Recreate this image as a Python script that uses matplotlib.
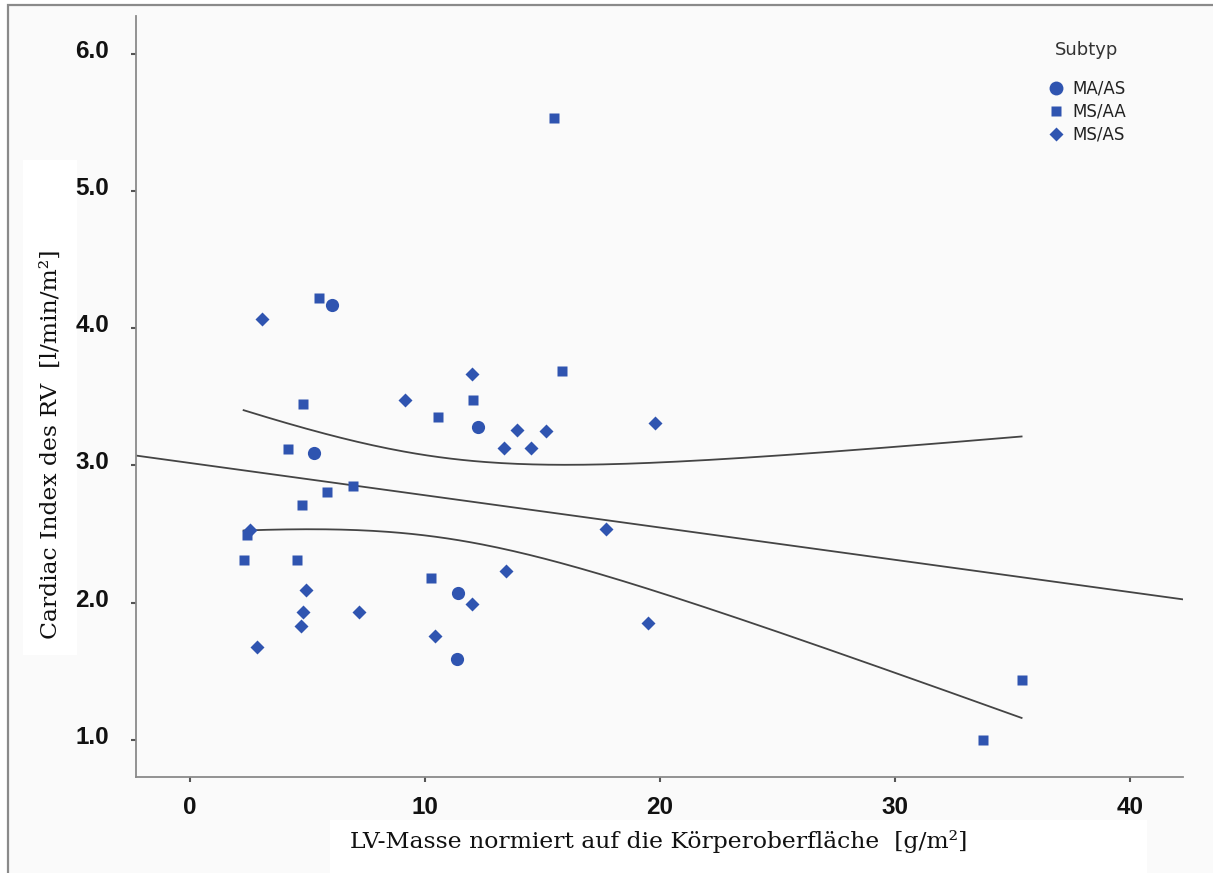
import numpy as np
import matplotlib
matplotlib.use("Agg")
import matplotlib.pyplot as plt
from matplotlib.patches import Rectangle
from matplotlib.lines import Line2D
import matplotlib.transforms as mtransforms

# Data (LV mass index vs. cardiac index RV)
ma_as_x = [6.04, 5.28, 12.26, 11.40, 11.36]
ma_as_y = [4.17, 3.09, 3.28, 2.07, 1.59]

ms_aa_x = [15.49, 5.49, 15.84, 4.80, 12.06, 10.54, 4.17, 6.92, 5.82, 4.77,
           2.44, 2.28, 4.54, 10.24, 35.39, 33.74]
ms_aa_y = [5.53, 4.22, 3.69, 3.45, 3.48, 3.35, 3.12, 2.85, 2.81, 2.71,
           2.49, 2.31, 2.31, 2.18, 1.44, 1.00]

ms_as_x = [3.06, 12.01, 9.14, 13.90, 15.13, 13.36, 14.50, 19.79, 2.55, 17.70,
           13.46, 4.94, 11.99, 4.81, 7.20, 4.74, 10.44, 2.85, 19.49]
ms_as_y = [4.07, 3.67, 3.48, 3.26, 3.25, 3.13, 3.13, 3.31, 2.53, 2.54,
           2.23, 2.09, 1.99, 1.93, 1.93, 1.83, 1.76, 1.68, 1.85]

x_ticks = [0, 10, 20, 30, 40]
y_ticks = [1.0, 2.0, 3.0, 4.0, 5.0, 6.0]

blue = "#2f54b0"
W, H = 1213, 873

fig = plt.figure(figsize=(W / 100, H / 100), dpi=100, facecolor="white")

# panel background with grey top/left frame
fig.add_artist(Rectangle((8 / W, -0.05), 1.1, 1.05 - 5 / H, transform=fig.transFigure,
                         facecolor="#fafafa", edgecolor="#8a8a8a", lw=1.6, zorder=-10))
# white boxes behind the axis titles
fig.add_artist(Rectangle((23 / W, 1 - 655 / H), 54 / W, 495 / H, transform=fig.transFigure,
                         facecolor="white", edgecolor="none", zorder=-9))
fig.add_artist(Rectangle((330 / W, -0.05), 817 / W, 0.05 + 1 - 820 / H, transform=fig.transFigure,
                         facecolor="white", edgecolor="none", zorder=-9))

ax = fig.add_axes([136 / W, 1 - 777 / H, (1183 - 136) / W, (777 - 16) / H])
ax.set_facecolor("none")

ax.plot(ma_as_x, ma_as_y, "o", color=blue, ms=9.5, mec="none", zorder=3)
ax.plot(ms_aa_x, ms_aa_y, "s", color=blue, ms=7, mec="none", zorder=3)
ax.plot(ms_as_x, ms_as_y, "D", color=blue, ms=7.2, mec="none", zorder=3)

# linear fit with 95% confidence band of the mean
all_x = np.array(ma_as_x + ms_aa_x + ms_as_x)
all_y = np.array(ma_as_y + ms_aa_y + ms_as_y)
n = len(all_x)
slope, intercept = np.polyfit(all_x, all_y, 1)
resid = all_y - (intercept + slope * all_x)
s = np.sqrt(np.sum(resid ** 2) / (n - 2))
xbar = all_x.mean()
sxx = np.sum((all_x - xbar) ** 2)
t = 2.024

xlim = (-2.30, 42.26)
xl = np.array(xlim)
ax.plot(xl, intercept + slope * xl, color="#444444", lw=1.3, zorder=2)
xc = np.linspace(all_x.min(), all_x.max(), 200)
half = t * s * np.sqrt(1 / n + (xc - xbar) ** 2 / sxx)
ax.plot(xc, intercept + slope * xc + half, color="#444444", lw=1.3, zorder=2)
ax.plot(xc, intercept + slope * xc - half, color="#444444", lw=1.3, zorder=2)

ax.set_xlim(*xlim)
ax.set_ylim(0.73, 6.275)
ax.set_xticks(x_ticks)
ax.set_yticks(y_ticks)
ax.set_xticklabels([str(v) for v in x_ticks])
ax.set_yticklabels(["%.1f" % v for v in y_ticks])

for side in ["top", "right"]:
    ax.spines[side].set_visible(False)
for side in ["left", "bottom"]:
    ax.spines[side].set_color("#8a8a8a")
    ax.spines[side].set_linewidth(1.3)

ax.tick_params(axis="both", direction="out", length=3.5, width=1.5, color="#555555")
ax.tick_params(axis="y", pad=16)
ax.tick_params(axis="x", pad=10)
for lab in ax.get_xticklabels() + ax.get_yticklabels():
    lab.set_fontfamily("Liberation Sans")
    lab.set_fontweight("bold")
    lab.set_fontsize(17.5)
    lab.set_color("#111111")
up = mtransforms.ScaledTranslation(0, 5 / 100, fig.dpi_scale_trans)
for lab in ax.get_yticklabels():
    lab.set_transform(lab.get_transform() + up)

fig.text(659 / W, 1 - 848 / H, "LV-Masse normiert auf die Körperoberfläche  [g/m²]",
         family="DejaVu Serif", fontsize=16.9, ha="center", va="baseline", color="#111111")
fig.text(51 / W, 1 - 444 / H, "Cardiac Index des RV  [l/min/m²]",
         family="DejaVu Serif", fontsize=16.9, ha="center", va="center", rotation=90,
         color="#111111")

handles = [Line2D([], [], ls="none", marker="o", ms=10, color=blue, mec="none"),
           Line2D([], [], ls="none", marker="s", ms=7, color=blue, mec="none"),
           Line2D([], [], ls="none", marker="D", ms=7.5, color=blue, mec="none")]
leg = ax.legend(handles, ["MA/AS", "MS/AA", "MS/AS"], title="Subtyp",
                loc="upper center", bbox_to_anchor=(1087 / W, 1 - 29 / H),
                bbox_transform=fig.transFigure, frameon=False,
                prop={"family": "DejaVu Sans", "size": 12},
                handlelength=1.0, handletextpad=0.45, labelspacing=0.3,
                borderpad=0.2)
leg.get_title().set_fontsize(13)
leg.get_title().set_color("#333333")
leg._legend_box.sep = 15
for txt in leg.get_texts():
    txt.set_color("#222222")

fig.savefig("out.png", dpi=100, facecolor="white")
